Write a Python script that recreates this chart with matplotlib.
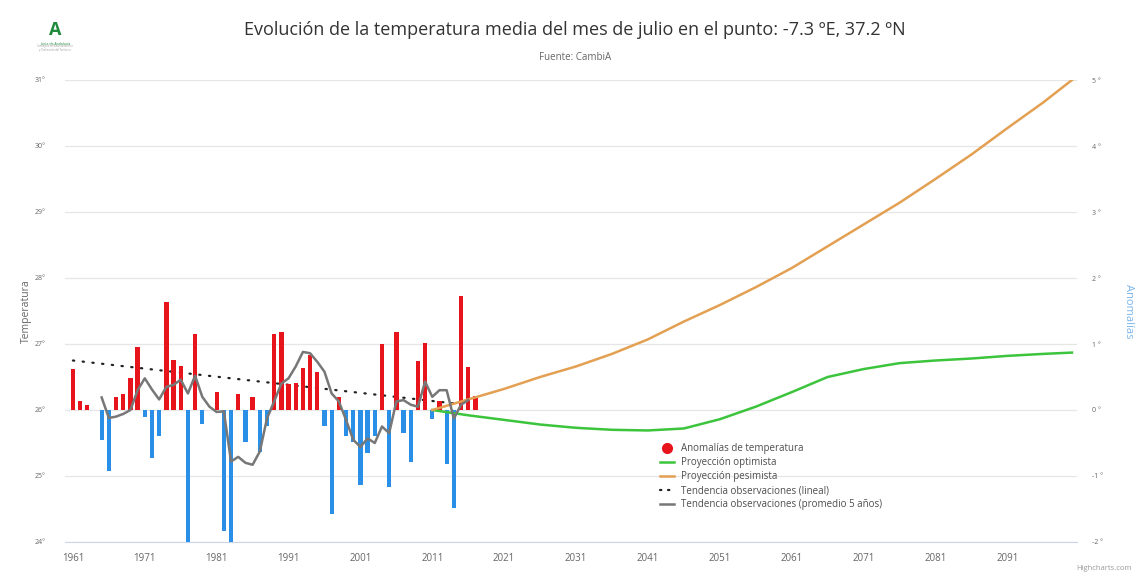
import numpy as np
import matplotlib.pyplot as plt
from matplotlib.lines import Line2D

# anomalias de temperatura (ºC respecto a 26º), julio 1961-2017
years = list(range(1961, 2018))
anomalias = [0.62, 0.14, 0.07, 0.0, -0.45, -0.92, 0.19, 0.24, 0.49, 0.96,
             -0.11, -0.73, -0.40, 1.63, 0.76, 0.67, -2.0, 1.15, -0.21, 0.0,
             0.27, -1.84, -2.0, 0.24, -0.48, 0.19, -0.63, -0.24, 1.15, 1.18,
             0.40, 0.41, 0.64, 0.84, 0.57, -0.24, -1.58, 0.20, -0.40, -0.48,
             -1.13, -0.65, -0.40, 1.00, -1.16, 1.18, -0.35, -0.79, 0.75, 1.02,
             -0.14, 0.14, -0.82, -1.49, 1.72, 0.65, 0.21]

# promedio 5 años (anomalia)
prom_years = list(range(1965, 2017))
prom_vals = [0.19, -0.12, -0.10, -0.06, 0.00, 0.30, 0.48, 0.31, 0.16, 0.35,
             0.38, 0.46, 0.25, 0.52, 0.20, 0.05, -0.03, -0.02, -0.78, -0.71,
             -0.80, -0.83, -0.63, -0.13, 0.13, 0.40, 0.48, 0.66, 0.88, 0.86,
             0.73, 0.58, 0.25, 0.13, -0.15, -0.45, -0.56, -0.43, -0.50, -0.25,
             -0.35, 0.13, 0.15, 0.08, 0.05, 0.43, 0.20, 0.30, 0.30, -0.13,
             0.08, 0.15]

# tendencia lineal (temperatura)
tend_years = [1961, 2014]
tend_vals = [26.75, 26.10]

# proyecciones (anomalia)
proy_years = [2011, 2016, 2021, 2026, 2031, 2036, 2041, 2046, 2051, 2056,
              2061, 2066, 2071, 2076, 2081, 2086, 2091, 2096, 2100]
optimista = [0.00, -0.08, -0.15, -0.22, -0.27, -0.30, -0.31, -0.28, -0.14, 0.05,
             0.27, 0.50, 0.62, 0.71, 0.75, 0.78, 0.82, 0.85, 0.87]
pesimista = [0.00, 0.16, 0.32, 0.50, 0.66, 0.85, 1.07, 1.34, 1.59, 1.86,
             2.15, 2.48, 2.81, 3.14, 3.50, 3.87, 4.27, 4.66, 5.00]

xticks = list(range(1961, 2100, 10))

red = '#e8141c'
blue = '#2a8fe6'
green = '#3cc43c'
orange = '#e3a052'
grey = '#777777'
txt = '#666666'

plt.rcParams['font.family'] = ['Open Sans', 'DejaVu Sans']

fig = plt.figure(figsize=(11.37, 5.76), dpi=100)
ax = fig.add_axes([65/1137, 34/576, 1012/1137, 462/576])
ax2 = ax.twinx()

ax.set_xlim(1959.9, 2100.7)
ax.set_ylim(24, 31)
ax2.set_ylim(-2, 5)
ax.set_yticks(range(24, 32))
ax.set_yticklabels(['%d°' % v for v in range(24, 32)])
ax2.set_yticks(range(-2, 6))
ax2.set_yticklabels(['%d °' % v for v in range(-2, 6)])
ax.set_xticks(xticks)
ax.set_xticklabels([str(y) for y in xticks])

ax.grid(axis='y', color='#e6e6e6', lw=0.9)
ax.set_axisbelow(True)
for a in (ax, ax2):
    for s in a.spines.values():
        s.set_visible(False)
ax.spines['bottom'].set_visible(True)
ax.spines['bottom'].set_color('#ccd6eb')
ax.tick_params(axis='x', length=0, pad=8, labelsize=7, labelcolor=txt)
ax.tick_params(axis='y', length=0, pad=14, labelsize=5, labelcolor=txt)
ax2.tick_params(axis='y', length=0, pad=11, labelsize=5, labelcolor=txt)

cols = [red if v >= 0 else blue for v in anomalias]
ax2.bar(years, anomalias, width=0.6, color=cols, zorder=2)

ax.plot(tend_years, tend_vals, color='#222222', lw=1.6, ls=(0, (0.6, 3.8)),
        dash_capstyle='round', zorder=4)
ax2.plot(prom_years, prom_vals, color=grey, lw=1.8, zorder=5)
ax2.plot(proy_years, optimista, color=green, lw=1.8, zorder=4)
ax2.plot(proy_years, pesimista, color=orange, lw=1.8, zorder=4)

handles = [
    Line2D([], [], ls='none', marker='o', ms=7, color=red),
    Line2D([], [], color=green, lw=1.8),
    Line2D([], [], color=orange, lw=1.8),
    Line2D([], [], color='#222222', lw=1.6, ls=(0, (0.6, 3.0)), dash_capstyle='round'),
    Line2D([], [], color=grey, lw=1.8),
]
labels = ['Anomalías de temperatura', 'Proyección optimista', 'Proyección pesimista',
          'Tendencia observaciones (lineal)', 'Tendencia observaciones (promedio 5 años)']
leg = ax2.legend(handles, labels, loc='upper left', bbox_to_anchor=(0.584, 0.222),
                 frameon=False, fontsize=7, labelspacing=0.3, handlelength=1.4,
                 handletextpad=0.8, borderaxespad=0)
for t in leg.get_texts():
    t.set_color('#4d4d4d')

ax.set_ylabel('Temperatura', fontsize=7.5, color=txt)
ax.yaxis.set_label_coords(-33/1012, 0.5)
ax2.set_ylabel('Anomalías', fontsize=8, color='#7cb5ec', rotation=270, labelpad=22)

fig.text(575/1137, 1 - 30/576, 'Evolución de la temperatura media del mes de julio en el punto: -7.3 ºE, 37.2 ºN',
         ha='center', va='center', fontsize=13, color='#333333')
fig.text(575/1137, 1 - 58/576, 'Fuente: CambiA', ha='center', va='center', fontsize=7, color=txt)
fig.text(1132/1137, 1 - 568/576, 'Highcharts.com', ha='right', va='center', fontsize=5.5, color='#999999')

# logo
fig.text(55/1137, 1 - 30/576, 'A', ha='center', va='center', fontsize=13, fontweight='bold', color='#1f8a3c')
fig.text(55/1137, 1 - 43/576, 'Junta de Andalucía', ha='center', va='center', fontsize=2.5, color='#1f8a3c')
fig.text(55/1137, 1 - 48/576, 'Consejería de Medio Ambiente\ny Ordenación del Territorio', ha='center', va='center',
         fontsize=1.8, color='#999999', linespacing=1.1)

fig.savefig('out.png', dpi=100, facecolor='white')
